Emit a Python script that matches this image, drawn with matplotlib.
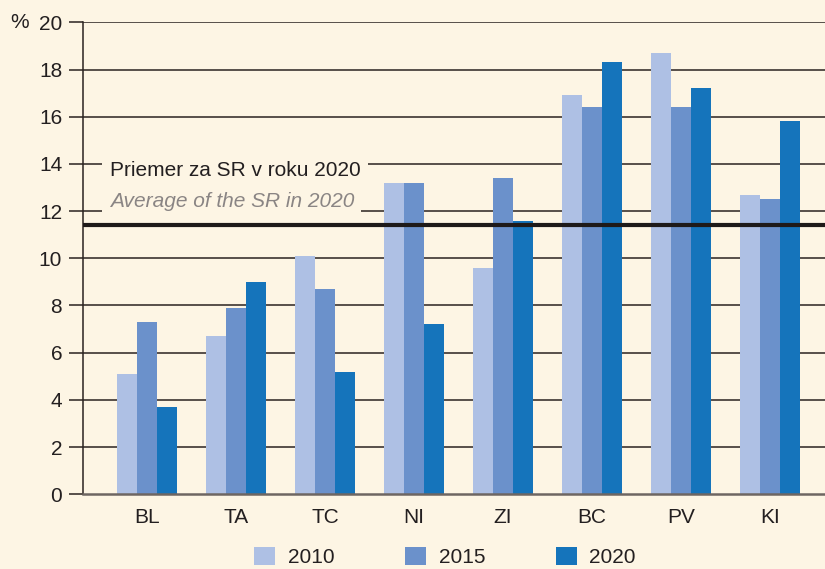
import matplotlib.pyplot as plt
import numpy as np

# Data
regions = ["BL", "TA", "TC", "NI", "ZI", "BC", "PV", "KI"]
years = ["2010", "2015", "2020"]
val_2010 = [5.1, 6.7, 10.1, 13.2, 9.6, 16.9, 18.7, 12.7]
val_2015 = [7.3, 7.9, 8.7, 13.2, 13.4, 16.4, 16.4, 12.5]
val_2020 = [3.7, 9.0, 5.2, 7.2, 11.6, 18.3, 17.2, 15.8]
sr_average = 11.4

colors = ["#aec0e4", "#6b91cb", "#1574bb"]
bg = "#fdf5e4"
dark = "#2a2220"

plt.rcParams["font.family"] = ["Liberation Sans", "DejaVu Sans"]

fig = plt.figure(figsize=(8.25, 5.69), dpi=100, facecolor=bg)
ax = fig.add_axes([0.1006, 0.1313, 0.8994, 0.8295], facecolor=bg)

x = np.arange(len(regions))
width = 0.225
series = [val_2010, val_2015, val_2020]
for k, vals in enumerate(series):
    ax.bar(x + (k - 1) * width, vals, width, color=colors[k], label=years[k],
           zorder=2, linewidth=0)

# gridlines behind bars
for yv in range(2, 21, 2):
    ax.axhline(yv, color=dark, linewidth=1.1, zorder=1)

# average line on top
ax.axhline(sr_average, color="#1e1a19", linewidth=3, zorder=4)

ax.text(-0.42, 13.7, "Priemer za SR v roku 2020", fontsize=15, color="#231f20",
        va="center", ha="left", zorder=5,
        bbox=dict(boxstyle="square,pad=0.35", facecolor=bg, edgecolor="none"))
ax.text(-0.42, 12.4, "Average of the SR in 2020", fontsize=15, color="#8a8584",
        style="italic", va="center", ha="left", zorder=5,
        bbox=dict(boxstyle="square,pad=0.35", facecolor=bg, edgecolor="none"))

ax.set_xlim(-0.72, 7.62)
ax.set_ylim(0, 20)
ax.set_yticks(range(0, 21, 2))
ax.set_xticks(x)
ax.set_xticklabels(regions)
ax.tick_params(axis="y", length=10, width=1.1, color=dark, labelsize=15,
               labelcolor="#231f20", pad=5)
ax.tick_params(axis="x", length=0, labelsize=15, labelcolor="#231f20", pad=10)

for s in ["top", "right"]:
    ax.spines[s].set_visible(False)
ax.spines["left"].set_color(dark)
ax.spines["left"].set_linewidth(1.1)
ax.spines["bottom"].set_color("#6e6662")
ax.spines["bottom"].set_linewidth(1.8)
ax.spines["bottom"].set_zorder(3)

fig.text(0.012, 0.961, "%", fontsize=15, color="#231f20", va="center", ha="left")

ax.legend(loc="center", bbox_to_anchor=(0.488, -0.133), ncol=3, frameon=False,
          fontsize=15, handlelength=1.0, handleheight=1.0, handletextpad=0.6,
          columnspacing=3.4, labelcolor="#231f20")

fig.savefig("out.png", dpi=100, facecolor=bg)
